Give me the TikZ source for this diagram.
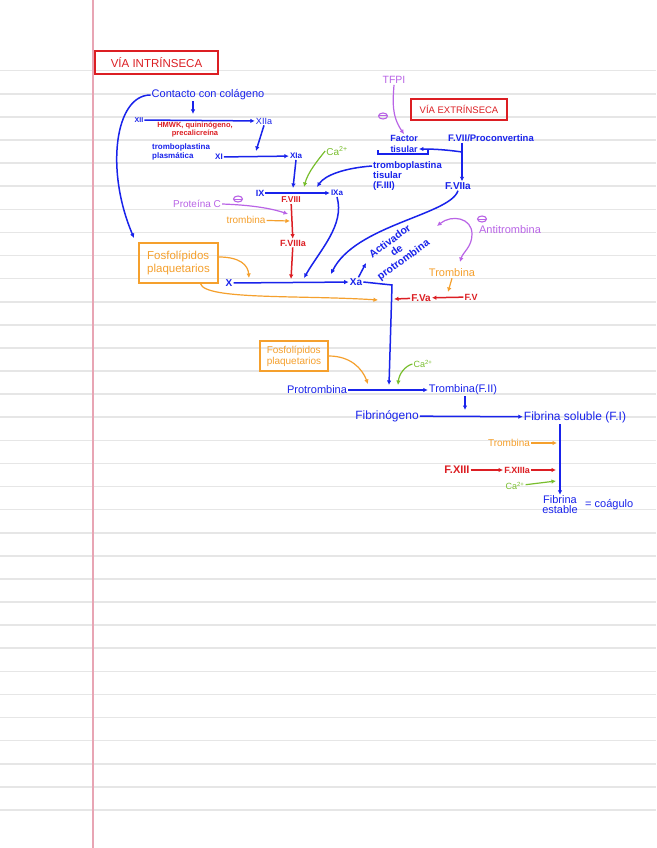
\documentclass[tikz,border=0pt]{standalone}
\usepackage{fontspec}
\setmainfont{Liberation Sans}
\usetikzlibrary{arrows.meta,calc,shapes.geometric}
\definecolor{penblue}{RGB}{25,35,235}
\definecolor{penred}{RGB}{220,30,35}
\definecolor{penorange}{RGB}{245,160,45}
\definecolor{penviolet}{RGB}{185,100,230}
\definecolor{pengreen}{RGB}{120,190,45}
\definecolor{ruling}{RGB}{230,230,230}
\definecolor{marginline}{RGB}{232,165,180}

\begin{document}
\begin{tikzpicture}[
    x=1pt, y=-1pt,
    >={Latex[length=4.5pt,width=4.5pt]},
    lbl/.style={inner sep=1pt, align=center, text=penblue},
    redlbl/.style={lbl, text=penred},
    orglbl/.style={lbl, text=penorange},
    violbl/.style={lbl, text=penviolet},
    grnlbl/.style={lbl, text=pengreen},
    inhib/.style={ellipse, draw=penviolet, line width=1.1pt, minimum width=9pt, minimum height=6pt, inner sep=0pt,
        path picture={\draw[penviolet, line width=1pt] (path picture bounding box.west) -- (path picture bounding box.east);}},
    title/.style={
        rectangle,
        draw=penred,
        line width=1.4pt,
        text=penred,
        inner sep=0pt
      },
    fosfbox/.style={
        rectangle,
        draw=penorange,
        line width=1.4pt,
        text=penorange,
        align=left,
        inner sep=0pt
      },
    arrow/.style={->, line width=1.5pt, penblue},
    redarrow/.style={arrow, penred},
    orgarrow/.style={arrow, penorange, line width=1.2pt},
    vioarrow/.style={arrow, penviolet, line width=1.2pt},
    grnarrow/.style={arrow, pengreen, line width=1.2pt}
    ]

    \useasboundingbox (0,0) rectangle (656,848);
    \fill[white] (0,0) rectangle (656,848);
    \foreach \i in {0,...,32}
      \draw[ruling, line width=1.6pt] (0,70.7+23.1*\i) -- (656,70.7+23.1*\i);
    \draw[marginline, line width=1.5pt] (93,0) -- (93,848);

    % via intrinseca
    \node[title, minimum width=123, minimum height=23, font=\fontsize{11.5}{12}\selectfont] (intr) at (156.5,62.5) {VÍA INTRÍNSECA};
    \node[lbl, font=\fontsize{11}{12}\selectfont] (contacto) at (208,95) {Contacto con colágeno};
    \node[lbl, font=\fontsize{7}{8}\selectfont\bfseries] (xii) at (139,120) {XII};
    \node[lbl, font=\fontsize{9}{10}\selectfont] (xiia) at (264,121) {XIIa};
    \coordinate (kin) at (193,114);
    \node[redlbl, font=\fontsize{7.5}{8}\selectfont\bfseries] (hmwk) at (195,130) {HMWK, quininógeno,\\precalicreína};
    \draw[arrow] (contacto.south -| kin) -- (kin);
    \draw[arrow] (xii) -- (xiia);

    \node[lbl, font=\fontsize{8}{9}\selectfont\bfseries, align=left, anchor=west] (tpl) at (151,152) {tromboplastina\\plasmática};
    \node[lbl, font=\fontsize{8}{9}\selectfont\bfseries] (xi) at (219,157) {XI};
    \node[lbl, font=\fontsize{8}{9}\selectfont\bfseries] (xia) at (296,156) {XIa};
    \coordinate (xijoin) at (256,151);
    \draw[arrow] (xiia.south) -- (xijoin);
    \draw[arrow] (xi) -- (xia);

    \node[grnlbl, font=\fontsize{10}{11}\selectfont] (ca1) at (337,151) {Ca\textsuperscript{2+}};
    \node[lbl, font=\fontsize{9}{10}\selectfont\bfseries] (ix) at (260,193) {IX};
    \node[lbl, font=\fontsize{8}{9}\selectfont\bfseries] (ixa) at (337,193) {IXa};
    \draw[arrow] (ix) -- (ixa);
    \coordinate (ixjoin) at (293,188);
    \draw[arrow] (xia.south) -- (ixjoin);
    \coordinate (ca1end) at (304,187);
    \draw[grnarrow] (ca1.west) .. controls (318,160) and (308,172) .. (ca1end);

    \node[redlbl, font=\fontsize{8.5}{9}\selectfont\bfseries] (fviii) at (291,200) {F.VIII};
    \node[redlbl, font=\fontsize{9}{10}\selectfont\bfseries] (fviiia) at (293,243) {F.VIIIa};
    \draw[redarrow] (fviii) -- (fviiia);
    \coordinate (viiijoin) at (291,279);
    \draw[redarrow] (fviiia) -- (viiijoin);

    \node[violbl, font=\fontsize{10}{11}\selectfont] (protc) at (197,204) {Proteína C};
    \node[inhib] (inh1) at (238,199) {};
    \coordinate (protcend) at (288,214);
    \draw[vioarrow] (protc.east) .. controls (250,205) and (270,208) .. (protcend);
    \node[orglbl, font=\fontsize{10}{11}\selectfont] (tromb1) at (246,220) {trombina};
    \coordinate (tromb1end) at (290,221);
    \draw[orgarrow] (tromb1) -- (tromb1end);

    \coordinate (ixaend) at (304,278);
    \draw[arrow] (ixa.south) .. controls (345,225) and (320,250) .. (ixaend);

    \node[fosfbox, minimum width=79, minimum height=40, font=\fontsize{11.5}{12.5}\selectfont] (fosf1) at (178.5,263) {Fosfolípidos\\plaquetarios};
    \node[lbl, font=\fontsize{10}{11}\selectfont\bfseries] (x) at (229,283) {X};
    \node[lbl, font=\fontsize{10}{11}\selectfont\bfseries] (xa) at (356,282) {Xa};
    \draw[arrow] (x) -- (xa);
    \coordinate (fosf1end) at (249,278);
    \draw[orgarrow] ([yshift=6]fosf1.east) .. controls (240,257) and (248,265) .. (fosf1end);
    \coordinate (fosf1far) at (378,300);
    \draw[orgarrow] ([xshift=22]fosf1.south) .. controls (205,300) and (300,295) .. (fosf1far);
    \coordinate (intrend) at (134,238);
    \draw[arrow] (contacto.west) .. controls (115,95) and (105,170) .. (intrend);

    % via extrinseca
    \node[violbl, font=\fontsize{10.5}{11}\selectfont] (tfpi) at (394,80) {TFPI};
    \node[inhib] (inh2) at (383,116) {};
    \node[title, minimum width=96, minimum height=21, font=\fontsize{9.5}{10}\selectfont] (extr) at (459,109.5) {VÍA EXTRÍNSECA};
    \node[lbl, font=\fontsize{9}{11}\selectfont\bfseries] (factor) at (404,144) {Factor\\tisular};
    \draw[vioarrow] (tfpi.south) .. controls (393,100) and (391,115) .. (factor.north);
    \draw[penblue, line width=1.3pt] (378,150) |- (428,154) -- (428,150);
    \node[lbl, font=\fontsize{9.5}{10}\selectfont\bfseries, align=left, anchor=north west] (ttis) at (372,160) {tromboplastina\\tisular\\(F.III)};
    \coordinate (ttisend) at (317,187);
    \draw[arrow] ([yshift=-6]ttis.north west) .. controls (345,168) and (325,175) .. (ttisend);

    \node[lbl, font=\fontsize{9.5}{10}\selectfont\bfseries] (fvii) at (491,138) {F.VII/Proconvertina};
    \node[lbl, font=\fontsize{10}{10}\selectfont\bfseries] (fviia) at (458,186) {F.VIIa};
    \coordinate (viifork) at (462,152);
    \draw[arrow] (fvii.south -| viifork) -- (fviia.north -| viifork);
    \draw[arrow] (viifork) .. controls (455,151) and (440,149) .. ([yshift=-5]factor.east);
    \coordinate (viiaend) at (331,274);
    \draw[arrow] (fviia.south) .. controls (450,215) and (355,225) .. (viiaend);

    \node[lbl, font=\fontsize{10.5}{11.5}\selectfont\bfseries, rotate=36] (activ) at (397,251) {Activador\\de\\protrombina};
    \coordinate (activend) at (366,263);
    \draw[arrow] (xa) -- (activend);

    \coordinate (xajoin) at (392,285);
    \coordinate (protjoin) at (389,385);
    \draw[arrow] (xa.east) -- (xajoin) -- (protjoin);

    \node[redlbl, font=\fontsize{10}{10}\selectfont\bfseries] (fva) at (421,298) {F.Va};
    \node[redlbl, font=\fontsize{9}{10}\selectfont\bfseries] (fv) at (471,297) {F.V};
    \draw[redarrow] (fv) -- (fva);
    \coordinate (fvaend) at (394,299);
    \draw[redarrow] (fva) -- (fvaend);
    \node[orglbl, font=\fontsize{11}{11}\selectfont] (tromb2) at (452,273) {Trombina};
    \coordinate (tromb2end) at (448,292);
    \draw[orgarrow] (tromb2.south) -- (tromb2end);

    \node[violbl, font=\fontsize{11}{11}\selectfont] (antit) at (510,230) {Antitrombina};
    \node[inhib] (inh3) at (482,219) {};
    \coordinate (antitup) at (437,226);
    \coordinate (antitdown) at (460,262);
    \draw[vioarrow, <->] (antitup) .. controls (452,214) and (472,218) .. (472,234) .. controls (472,247) and (463,252) .. (antitdown);

    % via comun
    \node[fosfbox, minimum width=68, minimum height=30, font=\fontsize{10}{11}\selectfont] (fosf2) at (294,356) {Fosfolípidos\\plaquetarios};
    \coordinate (fosf2end) at (368,384);
    \draw[orgarrow] (fosf2.east) .. controls (350,356) and (362,368) .. (fosf2end);
    \node[lbl, font=\fontsize{11}{11}\selectfont] (protr) at (317,390) {Protrombina};
    \node[lbl, font=\fontsize{11}{11}\selectfont] (tromb3) at (463,390) {Trombina(F.II)};
    \draw[arrow] (protr) -- (tromb3);
    \node[grnlbl, font=\fontsize{9}{9}\selectfont] (ca2) at (423,364) {Ca\textsuperscript{2+}};
    \coordinate (ca2end) at (398,385);
    \draw[grnarrow] (ca2.west) .. controls (405,366) and (399,374) .. (ca2end);

    \node[lbl, font=\fontsize{12}{12}\selectfont] (fibg) at (387,416) {Fibrinógeno};
    \node[lbl, font=\fontsize{12}{12}\selectfont] (fibs) at (575,417) {Fibrina soluble (F.I)};
    \draw[arrow] (fibg) -- (fibs);
    \coordinate (tromb3end) at (465,410);
    \draw[arrow] (tromb3.south -| tromb3end) -- (tromb3end);

    \node[lbl, font=\fontsize{11}{10}\selectfont] (fibe) at (560,505) {Fibrina\\estable};
    \node[lbl, font=\fontsize{11}{11}\selectfont, anchor=west] (coag) at (584,505) {= coágulo};
    \draw[arrow] (fibs.south -| fibe) -- (fibe.north);

    \node[orglbl, font=\fontsize{10}{10}\selectfont] (tromb4) at (509,443) {Trombina};
    \coordinate (tromb4end) at (557,443);
    \draw[orgarrow] (tromb4) -- (tromb4end);
    \node[redlbl, font=\fontsize{11}{11}\selectfont\bfseries] (fxiii) at (457,470) {F.XIII};
    \node[redlbl, font=\fontsize{9}{9}\selectfont\bfseries] (fxiiia) at (517,470) {F.XIIIa};
    \draw[redarrow] (fxiii) -- (fxiiia);
    \coordinate (fxiiiaend) at (556,470);
    \draw[redarrow] (fxiiia) -- (fxiiiaend);
    \node[grnlbl, font=\fontsize{9}{9}\selectfont] (ca3) at (515,486) {Ca\textsuperscript{2+}};
    \coordinate (ca3end) at (556,481);
    \draw[grnarrow] (ca3) -- (ca3end);

  \end{tikzpicture}
\end{document}
